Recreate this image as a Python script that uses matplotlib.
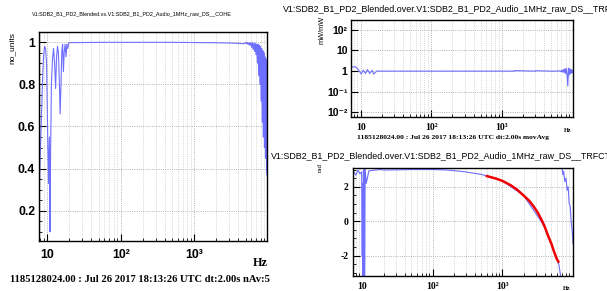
import numpy as np
import matplotlib
matplotlib.use("Agg")
import matplotlib.pyplot as plt
from matplotlib.ticker import FixedLocator, NullFormatter, MultipleLocator, LogLocator

plt.rcParams['font.family'] = ['Liberation Sans', 'DejaVu Sans']

# ---- data ----
# coherence (left)
coh_f_low = [7.8, 8.0, 8.3, 8.6, 8.9, 9.2, 9.5, 9.8, 10.1, 10.4, 10.7, 10.9, 11.1, 11.4,
             11.8, 12.2, 12.6, 13.0, 13.4, 13.8, 14.2, 14.6, 15.0, 15.4, 15.8, 16.2,
             16.6, 17.0, 17.5, 18.0, 18.5, 19.0, 19.6, 20.2]
coh_low = [0.30, 0.45, 0.62, 0.80, 0.93, 0.98, 0.97, 0.90, 0.60, 0.33, 0.55, 0.10, 0.45,
           0.80, 0.92, 0.97, 0.90, 0.78, 0.93, 0.98, 0.95, 0.82, 0.66, 0.80, 0.96, 0.99,
           0.86, 0.95, 0.99, 0.93, 0.99, 0.97, 0.995, 0.998]
coh_f_mid = [30, 60, 100, 200, 500, 1000, 2000, 3000, 4000, 4800]
coh_mid = [0.998, 0.999, 0.999, 0.999, 0.999, 0.998, 0.997, 0.996, 0.994, 0.992]
coh_f_high = [5000, 5150, 5300, 5450, 5600, 5750, 5900, 6050, 6200, 6350, 6500, 6650,
              6800, 6950, 7100, 7250, 7400, 7550, 7700, 7850, 8000, 8150, 8300, 8450,
              8600, 8750, 8900, 9050, 9200, 9350, 9500, 9650, 9800]
coh_high = [0.999, 0.992, 0.999, 0.988, 0.998, 0.985, 0.998, 0.975, 0.997, 0.965, 0.996,
            0.955, 0.995, 0.94, 0.99, 0.90, 0.99, 0.84, 0.985, 0.80, 0.98, 0.72, 0.97,
            0.62, 0.96, 0.55, 0.95, 0.50, 0.93, 0.45, 0.92, 0.40, 0.37]

# transfer function magnitude (top right)
mag_f = [7.6, 8.5, 9.4, 10.2, 10.9, 11.7, 12.5, 13.4, 14.6, 15.3, 17.1, 19.0, 50, 200,
         1000, 1500, 1510, 3000, 3010, 5000, 6000, 6400, 6800, 7000, 7200, 7400, 7600,
         7800, 8000, 8200, 8400, 8600, 8800, 9000, 9200, 9400, 9600, 9800, 10000, 10200]
mag = [1.6, 1.6, 1.1, 0.72, 1.1, 0.77, 1.2, 0.77, 1.1, 0.72, 1.03, 1.0, 1.0, 1.0,
       1.0, 1.0, 1.06, 1.0, 1.05, 1.0, 1.0, 1.05, 0.95, 1.1, 0.9, 1.2, 0.85,
       1.3, 0.75, 1.35, 0.7, 0.19, 1.4, 0.65, 1.3, 0.75, 1.25, 0.8, 1.1, 0.9]

# transfer function phase (bottom right), nan = wrap
ph_f = [7.4, 8.0, 8.6, 9.2, 9.7, 9.9, 10.0, 10.1, 10.3, 10.4, 10.6, 10.7, 10.9, 11.3,
        12.3, 14.5, 18, 20, 30, 50, 100, 150, 200, 300, 400, 500, 600, 800, 1000, 2000,
        4000, 6000, 6400, 6800, 6900,
        7100, 7300, 7500, 7800, 8100, 8400, 8700, 9000, 9300, 9600, 9900, 10200]
ph = [2.92, 2.67, 2.96, 2.76, 2.86, -2.03, 2.2, -3.19, 2.96, -3.19, 3.0, -3.19, 3.0, 2.2,
      2.92, 2.96, 3.0, 2.97, 2.98, 3.0, 3.0, 2.98, 2.94, 2.86, 2.78, 2.72, 2.62, 2.48,
      2.34, 1.5, -0.3, -2.2, -2.5, -3.2, np.nan,
      3.14, 2.7, 2.9, 2.3, 2.5, 1.8, 2.0, 1.0, 0.9, 0.0, -0.5, -1.3]
fit_f = [600, 800, 1000, 1300, 1600, 2000, 2400, 2800, 3200, 3600, 4000, 4500, 5000,
         5500, 6000, 6300]
fit_ph = [2.62, 2.48, 2.34, 2.1, 1.85, 1.5, 1.2, 0.85, 0.5, 0.1, -0.3, -0.85, -1.3,
          -1.8, -2.2, -2.35]

BLUE = '#6e6eff'
SERIF = ['Liberation Serif', 'DejaVu Serif']
stamp = "1185128024.00 : Jul 26 2017 18:13:26 UTC dt:2.00s "
trf_title = "V1:SDB2_B1_PD2_Blended.over.V1:SDB2_B1_PD2_Audio_1MHz_raw_DS__TRFCT"

W, H = 607, 291
fig = plt.figure(figsize=(W / 100, H / 100), dpi=100)


def box(x0, y0, x1, y1):
    return [x0 / W, 1 - y1 / H, (x1 - x0) / W, (y1 - y0) / H]


def style_x(ax, lim, size, family):
    ax.set_xscale('log')
    ax.set_xlim(*lim)
    ax.xaxis.set_major_locator(FixedLocator([10, 100, 1000]))
    ax.set_xticklabels(['10', '10²', '10³'], fontsize=size, fontweight='bold', family=family)
    ax.xaxis.set_minor_locator(LogLocator(base=10, subs=np.arange(2, 10)))
    ax.xaxis.set_minor_formatter(NullFormatter())
    ax.grid(True, which='major', axis='both', ls=':', color='#999999', lw=0.6)
    ax.grid(True, which='minor', axis='x', ls=':', color='#bbbbbb', lw=0.5)
    ax.tick_params(which='both', direction='in', top=False, right=False)
    ax.tick_params(which='major', length=5, width=0.8)
    ax.tick_params(which='minor', length=2.5, width=0.6)
    for s in ax.spines.values():
        s.set_linewidth(1.0)


# ---- left: coherence ----
ax1 = fig.add_axes(box(39.3, 32, 267, 241))
ax1.plot(coh_f_low + coh_f_mid + coh_f_high, coh_low + coh_mid + coh_high,
         color=BLUE, lw=0.8)
style_x(ax1, (7.8, 9800), 8.8, ['Liberation Sans', 'DejaVu Sans'])
ax1.tick_params(axis='x', pad=6)
ax1.set_ylim(0.057, 1.048)
ax1.yaxis.set_major_locator(FixedLocator([0.2, 0.4, 0.6, 0.8, 1.0]))
ax1.set_yticklabels(['0.2', '0.4', '0.6', '0.8', '1'], fontsize=8.8, fontweight='bold')
ax1.yaxis.set_minor_locator(MultipleLocator(0.05))
ax1.tick_params(axis='y', pad=3)
fig.text(132 / W, 1 - 14 / H, "V1:SDB2_B1_PD2_Blended.vs.V1:SDB2_B1_PD2_Audio_1MHz_raw_DS__COHE",
         fontsize=3.9, ha='center', va='center')
fig.text(12 / W, 1 - 32 / H, "no_units", rotation=90, fontsize=6, ha='center', va='top')
fig.text(260 / W, 1 - 263 / H, "Hz", family=SERIF, fontweight='bold', fontsize=8.8,
         ha='center', va='center')
fig.text(140 / W, 1 - 280 / H, stamp + "nAv:5", family=SERIF, fontweight='bold',
         fontsize=7.6, ha='center', va='center')

# ---- top right: magnitude ----
ax2 = fig.add_axes(box(351, 20, 573, 117))
ax2.plot(mag_f, mag, color=BLUE, lw=0.8)
style_x(ax2, (7.3, 10200), 7, SERIF)
ax2.tick_params(axis='x', pad=4)
ax2.set_yscale('log')
ax2.set_ylim(0.006, 300)
ax2.yaxis.set_major_locator(FixedLocator([0.01, 0.1, 1, 10, 100]))
ax2.set_yticklabels(['10⁻²', '10⁻¹', '1', '10', '10²'], fontsize=7.5, fontweight='bold')
ax2.yaxis.set_minor_locator(LogLocator(base=10, subs=np.arange(2, 10)))
ax2.yaxis.set_minor_formatter(NullFormatter())
ax2.tick_params(axis='y', pad=2.5)
fig.text(283 / W, 1 - 9 / H, trf_title, fontsize=6.4, ha='left', va='center')
fig.text(322 / W, 1 - 16 / H, "mW/mW", rotation=90, fontsize=5.3, ha='center', va='top')
fig.text(568 / W, 1 - 130 / H, "Hz", family=SERIF, fontweight='bold', fontsize=4.5,
         ha='center', va='center')
fig.text(453 / W, 1 - 137 / H, stamp + "movAvg", family=SERIF, fontweight='bold',
         fontsize=5.4, ha='center', va='center')

# ---- bottom right: phase ----
ax3 = fig.add_axes(box(353, 168, 573, 276))
ax3.plot(ph_f, ph, color=BLUE, lw=0.8)
ax3.plot(fit_f, fit_ph, color='#ee0000', lw=1.8)
style_x(ax3, (7.3, 10200), 7, SERIF)
ax3.tick_params(axis='x', pad=4)
ax3.set_ylim(-3.18, 3.09)
ax3.yaxis.set_major_locator(FixedLocator([-2, 0, 2]))
ax3.set_yticklabels(['-2', '0', '2'], fontsize=7, fontweight='bold', family=SERIF)
ax3.yaxis.set_minor_locator(MultipleLocator(0.5))
ax3.tick_params(axis='y', pad=3)
fig.text(271 / W, 1 - 156 / H, trf_title, fontsize=6.4, ha='left', va='center')
fig.text(320 / W, 1 - 163 / H, "rad", rotation=90, fontsize=5, family=SERIF,
         ha='center', va='top')
fig.text(567 / W, 1 - 288 / H, "Hz", family=SERIF, fontweight='bold', fontsize=4.5,
         ha='center', va='center')

fig.savefig("out.png", dpi=100, facecolor='white')
